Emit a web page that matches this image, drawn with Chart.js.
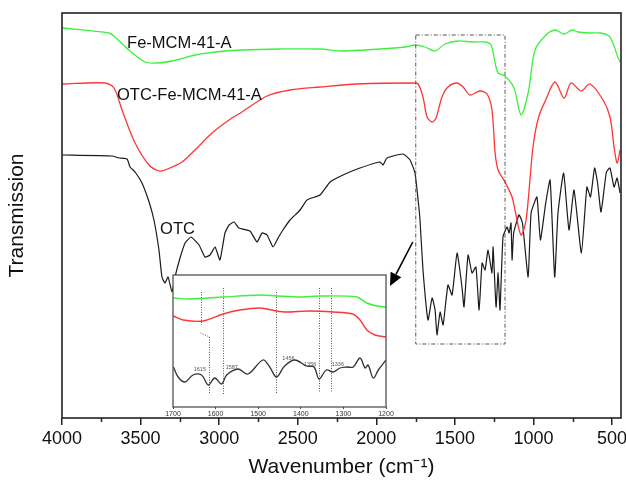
<!DOCTYPE html>
<html>
<head>
<meta charset="utf-8">
<script src="https://cdn.jsdelivr.net/npm/chart.js@4.4.1/dist/chart.umd.min.js"></script>
<style>
  html, body { margin: 0; padding: 0; background: #fff; }
  #wrap { position: relative; width: 626px; height: 485px; }
  #main { position: absolute; left: 0; top: 0; }
  #inset { position: absolute; left: 163px; top: 265px; }
</style>
</head>
<body>
<div id="wrap">
  <canvas id="main" width="626" height="485"></canvas>
  <canvas id="inset" width="233" height="160"></canvas>
</div>
<script>
/* ---- main spectra (wavenumber cm-1 / transmission, arbitrary units) ---- */
const X_TICKS = [4000, 3500, 3000, 2500, 2000, 1500, 1000, 500];
const X_MINOR = [3750, 3250, 2750, 2250, 1750, 1250, 750];

const GREEN_WN = [4000, 3701, 3663, 3574, 3472, 3395, 3300, 3154, 3026, 2855, 2613, 2358, 2231, 1976, 1817, 1754, 1690, 1626, 1563, 1480, 1391, 1308, 1270, 1244, 1225, 1181, 1124, 1079, 1034, 990, 920, 863, 805, 754, 716, 640, 576, 519, 487, 468, 449];
const GREEN_T  = [390, 385, 381, 368, 356, 355, 357, 363, 366, 368, 369, 369, 367, 369, 371, 373, 371, 367, 374, 377, 376, 376, 373, 355, 345, 342, 330, 303, 325, 368, 383, 388, 384, 388, 386, 385, 385, 382, 372, 363, 356];

const RED_WN = [4000, 3726, 3669, 3618, 3535, 3446, 3383, 3345, 3236, 3154, 3045, 2937, 2855, 2695, 2549, 2358, 2123, 1766, 1734, 1703, 1677, 1645, 1620, 1582, 1544, 1486, 1448, 1404, 1340, 1295, 1264, 1244, 1225, 1181, 1136, 1111, 1079, 1047, 1003, 967, 922, 863, 805, 761, 697, 640, 557, 513, 487, 468, 449];
const RED_T  = [334, 335, 330, 308, 275, 253, 247, 248, 256, 268, 285, 298, 306, 322, 328, 331, 334, 335, 334, 321, 301, 296, 300, 321, 331, 335, 331, 323, 327, 324, 308, 265, 248, 236, 221, 203, 183, 198, 271, 301, 318, 336, 320, 335, 327, 334, 318, 301, 271, 255, 268];

const BLACK_WN = [4000, 3682, 3637, 3586, 3567, 3535, 3491, 3446, 3415, 3383, 3364, 3345, 3325, 3300, 3281, 3249, 3217, 3179, 3128, 3090, 3058, 3026, 2995, 2963, 2937, 2905, 2874, 2804, 2759, 2727, 2695, 2657, 2625, 2594, 2549, 2485, 2441, 2358, 2294, 2212, 2104, 1976, 1957, 1932, 1830, 1785, 1754, 1734, 1722, 1703, 1671, 1645, 1626, 1614, 1594, 1575, 1544, 1518, 1486, 1455, 1442, 1416, 1391, 1366, 1346, 1327, 1308, 1289, 1264, 1257, 1238, 1225, 1213, 1194, 1168, 1155, 1143, 1136, 1126, 1092, 1070, 1034, 1015, 978, 956, 922, 894, 865, 844, 808, 774, 742, 695, 660, 637, 611, 592, 570, 536, 513, 487, 468, 449];
const BLACK_T  = [263, 262, 260, 259, 251, 246, 235, 216, 198, 168, 141, 135, 141, 126, 141, 160, 175, 181, 173, 161, 163, 171, 158, 185, 193, 196, 190, 187, 176, 185, 183, 171, 180, 188, 198, 208, 218, 223, 236, 243, 250, 256, 253, 260, 264, 258, 245, 218, 198, 148, 98, 120, 108, 83, 106, 93, 133, 123, 165, 131, 111, 163, 145, 151, 108, 155, 148, 168, 145, 171, 111, 145, 108, 181, 191, 185, 195, 158, 185, 203, 195, 141, 205, 221, 178, 215, 238, 141, 205, 245, 188, 228, 165, 231, 221, 250, 235, 206, 246, 250, 231, 240, 225];

/* ---- inset (1700-1200 cm-1) ---- */
const INSET_TICKS = [1700, 1600, 1500, 1400, 1300, 1200];

const IN_GREEN_WN = [1699, 1660, 1582, 1496, 1457, 1402, 1355, 1269, 1245, 1222, 1200];
const IN_GREEN_T  = [109, 108, 110, 112, 111, 110, 111, 110, 104, 101, 100];

const IN_RED_WN = [1699, 1676, 1629, 1582, 1543, 1496, 1457, 1434, 1380, 1325, 1278, 1261, 1245, 1226, 1200];
const IN_RED_T  = [91, 87, 86, 93, 97, 99, 96, 95, 96, 95, 93, 87, 77, 72, 70];

const IN_BLACK_WN = [1699, 1688, 1672, 1653, 1633, 1617, 1602, 1586, 1574, 1547, 1524, 1489, 1473, 1457, 1438, 1414, 1387, 1369, 1357, 1340, 1324, 1308, 1293, 1277, 1261, 1249, 1242, 1230, 1218, 1200];
const IN_BLACK_T  = [40, 30, 25, 32, 32, 22, 29, 23, 32, 38, 33, 47, 40, 30, 41, 47, 41, 40, 28, 37, 35, 39, 40, 40, 49, 39, 42, 29, 37, 47];

const IN_PEAKS = ['1615', '1587', '1456', '1356', '1336'];
const IN_PEAK_WN = [1637, 1562, 1429, 1378, 1313];
const IN_PEAK_T  = [38, 40, 49, 43, 43];

// dotted marker segments in the inset: [wn1, t1, wn2, t2]
const IN_MARKS = [
  [1634, 115, 1634, 82],
  [1637, 74, 1615, 70],
  [1615, 70, 1615, 14],
  [1582, 119, 1582, 12],
  [1458, 115, 1458, 14],
  [1357, 119, 1357, 14],
  [1329, 119, 1329, 14]
];

// annotations on the main chart
const SERIES_LABELS = ['Fe-MCM-41-A', 'OTC-Fe-MCM-41-A', 'OTC'];
const LABEL_WN = [3586, 3650, 3376];
const LABEL_T  = [375, 323, 189];
const BOX_WN = [1749, 1181];
const BOX_T  = [74, 383];
const ARROW_WN = [1768, 1913];
const ARROW_T  = [176, 132];

const FONT = '"Liberation Sans", Arial, sans-serif';
Chart.defaults.font.family = FONT;
Chart.defaults.color = '#111';

function toPoints(wn, t) {
  return wn.map((w, i) => ({ x: w, y: t[i] }));
}

/* draws frame, minor ticks, zoom box, arrow and curve labels */
const mainDecor = {
  id: 'mainDecor',
  afterDatasetsDraw(chart) {
    const ctx = chart.ctx;
    const xs = chart.scales.x;
    const ys = chart.scales.y;
    const area = chart.chartArea;

    ctx.save();

    // dash-dot box around the 1750-1180 region
    ctx.strokeStyle = '#555';
    ctx.lineWidth = 1;
    ctx.setLineDash([4, 2, 1, 2]);
    const bx1 = xs.getPixelForValue(BOX_WN[0]);
    const bx2 = xs.getPixelForValue(BOX_WN[1]);
    const by1 = ys.getPixelForValue(BOX_T[1]);
    const by2 = ys.getPixelForValue(BOX_T[0]);
    ctx.strokeRect(bx1, by1, bx2 - bx1, by2 - by1);
    ctx.setLineDash([]);

    // arrow pointing at the inset
    const ax1 = xs.getPixelForValue(ARROW_WN[0]);
    const ay1 = ys.getPixelForValue(ARROW_T[0]);
    const ax2 = xs.getPixelForValue(ARROW_WN[1]);
    const ay2 = ys.getPixelForValue(ARROW_T[1]);
    const ang = Math.atan2(ay2 - ay1, ax2 - ax1);
    const headLen = 13, headW = 6;
    const hx = ax2 - headLen * Math.cos(ang);
    const hy = ay2 - headLen * Math.sin(ang);
    ctx.strokeStyle = '#000';
    ctx.lineWidth = 1.6;
    ctx.beginPath();
    ctx.moveTo(ax1, ay1);
    ctx.lineTo(hx, hy);
    ctx.stroke();
    ctx.fillStyle = '#000';
    ctx.beginPath();
    ctx.moveTo(ax2, ay2);
    ctx.lineTo(hx + headW * Math.sin(ang), hy - headW * Math.cos(ang));
    ctx.lineTo(hx - headW * Math.sin(ang), hy + headW * Math.cos(ang));
    ctx.closePath();
    ctx.fill();

    // curve labels
    ctx.font = '16.5px ' + FONT;
    ctx.fillStyle = '#111';
    ctx.textAlign = 'left';
    ctx.textBaseline = 'middle';
    SERIES_LABELS.forEach((txt, i) => {
      ctx.fillText(txt, xs.getPixelForValue(LABEL_WN[i]), ys.getPixelForValue(LABEL_T[i]));
    });

    // frame
    ctx.strokeStyle = '#222';
    ctx.lineWidth = 1.6;
    ctx.strokeRect(area.left, area.top, area.right - area.left, area.bottom - area.top);

    // minor ticks
    ctx.lineWidth = 1.5;
    ctx.beginPath();
    X_MINOR.forEach(v => {
      const px = Math.round(xs.getPixelForValue(v)) + 0.5;
      ctx.moveTo(px, area.bottom);
      ctx.lineTo(px, area.bottom + 4);
    });
    ctx.stroke();

    ctx.restore();
  }
};

new Chart(document.getElementById('main'), {
  type: 'line',
  data: {
    datasets: [
      {
        label: 'Fe-MCM-41-A',
        data: toPoints(GREEN_WN, GREEN_T),
        borderColor: '#3ef03e',
        borderWidth: 1.3,
        pointRadius: 0,
        tension: 0.3
      },
      {
        label: 'OTC-Fe-MCM-41-A',
        data: toPoints(RED_WN, RED_T),
        borderColor: '#ff3535',
        borderWidth: 1.3,
        pointRadius: 0,
        tension: 0.3
      },
      {
        label: 'OTC',
        data: toPoints(BLACK_WN, BLACK_T),
        borderColor: '#1a1a1a',
        borderWidth: 1.2,
        pointRadius: 0,
        tension: 0.15
      }
    ]
  },
  options: {
    responsive: false,
    animation: false,
    devicePixelRatio: 1,
    layout: { padding: { top: 13, right: 5, left: 0, bottom: 0 } },
    plugins: {
      legend: { display: false },
      tooltip: { enabled: false }
    },
    scales: {
      x: {
        type: 'linear',
        reverse: true,
        min: 443,
        max: 4000,
        afterBuildTicks: (s) => { s.ticks = X_TICKS.map(v => ({ value: v })); },
        afterFit: (s) => { s.height = 67; s.paddingLeft = 0; s.paddingRight = 0; },
        ticks: {
          font: { size: 18 },
          color: '#111',
          padding: 3,
          maxRotation: 0,
          autoSkip: false,
          callback: (v) => String(v)
        },
        grid: {
          drawOnChartArea: false,
          drawTicks: true,
          tickLength: 7,
          color: '#222',
          lineWidth: 1.5
        },
        border: { display: false },
        title: {
          display: true,
          text: 'Wavenumber (cm⁻¹)',
          font: { size: 21 },
          color: '#111',
          padding: { top: 0, bottom: 5 }
        }
      },
      y: {
        min: 0,
        max: 405,
        afterFit: (s) => { s.width = 62; s.paddingTop = 0; s.paddingBottom = 0; },
        ticks: { display: false },
        grid: { display: false },
        border: { display: false },
        title: {
          display: true,
          text: 'Transmission',
          font: { size: 21 },
          color: '#111',
          padding: { top: 5, bottom: 0 }
        }
      }
    }
  },
  plugins: [mainDecor]
});

/* inset: white panel, dotted peak markers, peak numbers, border */
const insetDecor = {
  id: 'insetDecor',
  beforeDraw(chart) {
    const a = chart.chartArea;
    const ctx = chart.ctx;
    ctx.save();
    ctx.fillStyle = '#fff';
    ctx.fillRect(a.left, a.top, a.right - a.left, a.bottom - a.top);
    ctx.restore();
  },
  beforeDatasetsDraw(chart) {
    const ctx = chart.ctx;
    const xs = chart.scales.x;
    const ys = chart.scales.y;
    ctx.save();
    ctx.strokeStyle = '#555';
    ctx.lineWidth = 1;
    ctx.setLineDash([1, 1.5]);
    IN_MARKS.forEach(m => {
      ctx.beginPath();
      ctx.moveTo(Math.round(xs.getPixelForValue(m[0])) + 0.5, ys.getPixelForValue(m[1]));
      ctx.lineTo(Math.round(xs.getPixelForValue(m[2])) + 0.5, ys.getPixelForValue(m[3]));
      ctx.stroke();
    });
    ctx.setLineDash([]);
    ctx.font = '5.5px ' + FONT;
    ctx.fillStyle = '#555';
    ctx.textAlign = 'center';
    ctx.textBaseline = 'middle';
    IN_PEAKS.forEach((txt, i) => {
      ctx.fillText(txt, xs.getPixelForValue(IN_PEAK_WN[i]), ys.getPixelForValue(IN_PEAK_T[i]));
    });
    ctx.restore();
  },
  afterDatasetsDraw(chart) {
    const a = chart.chartArea;
    const ctx = chart.ctx;
    ctx.save();
    ctx.strokeStyle = '#444';
    ctx.lineWidth = 1.2;
    ctx.strokeRect(a.left, a.top, a.right - a.left, a.bottom - a.top);
    ctx.restore();
  }
};

new Chart(document.getElementById('inset'), {
  type: 'line',
  data: {
    datasets: [
      { data: toPoints(IN_GREEN_WN, IN_GREEN_T), borderColor: '#3ef03e', borderWidth: 1.4, pointRadius: 0, tension: 0.3 },
      { data: toPoints(IN_RED_WN, IN_RED_T), borderColor: '#ff3535', borderWidth: 1.4, pointRadius: 0, tension: 0.3 },
      { data: toPoints(IN_BLACK_WN, IN_BLACK_T), borderColor: '#333', borderWidth: 1.3, pointRadius: 0, tension: 0.35 }
    ]
  },
  options: {
    responsive: false,
    animation: false,
    devicePixelRatio: 1,
    layout: { padding: { left: 10, top: 10, right: 10, bottom: 0 } },
    plugins: {
      legend: { display: false },
      tooltip: { enabled: false }
    },
    scales: {
      x: {
        type: 'linear',
        reverse: true,
        min: 1200,
        max: 1700,
        afterBuildTicks: (s) => { s.ticks = INSET_TICKS.map(v => ({ value: v })); },
        afterFit: (s) => { s.height = 18; s.paddingLeft = 0; s.paddingRight = 0; },
        ticks: {
          font: { size: 7 },
          color: '#333',
          padding: 1,
          maxRotation: 0,
          autoSkip: false,
          callback: (v) => String(v)
        },
        grid: { drawOnChartArea: false, tickLength: 2, color: '#444' },
        border: { display: false }
      },
      y: { display: false, min: 0, max: 132 }
    }
  },
  plugins: [insetDecor]
});
</script>
</body>
</html>
